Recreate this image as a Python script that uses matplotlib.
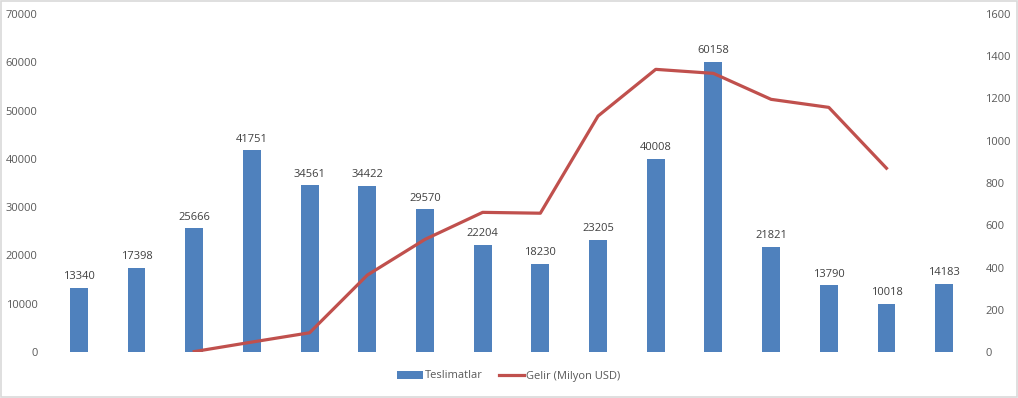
import matplotlib
matplotlib.use("Agg")
import matplotlib.pyplot as plt
from matplotlib.patches import Rectangle

deliveries = [13340, 17398, 25666, 41751, 34561, 34422, 29570, 22204, 18230,
              23205, 40008, 60158, 21821, 13790, 10018, 14183]
revenue_idx = list(range(2, 15))
revenue = [2, 47, 91, 364, 533, 661, 657, 1117, 1338, 1319, 1196, 1158, 870]
bar_label = "Teslimatlar"
line_label = "Gelir (Milyon USD)"

plt.rcParams['font.family'] = ['Open Sans', 'DejaVu Sans']
BAR_C = "#4F81BD"
LINE_C = "#C0504D"
TXT_C = "#595959"

fig = plt.figure(figsize=(10.18, 3.98), dpi=100)
fig.patches.append(Rectangle((0.001, 0.002), 0.998, 0.996, transform=fig.transFigure,
                             fill=False, edgecolor="#D9D9D9", linewidth=1.2))
ax = fig.add_axes([50/1018, 46/398, 923/1018, 338/398])
x = list(range(len(deliveries)))
bars = ax.bar(x, deliveries, width=0.31, color=BAR_C, label=bar_label, zorder=2)
for xi, v in zip(x, deliveries):
    ax.annotate(str(v), (xi, v), xytext=(0, 4), textcoords="offset points",
                ha="center", va="bottom", fontsize=8, color="#404040")
ax.set_xlim(-0.5, len(deliveries) - 0.5)
ax.set_ylim(0, 70000)
ax.set_yticks(range(0, 70001, 10000))
ax.set_xticks([])
for s in ax.spines.values():
    s.set_visible(False)
ax.tick_params(axis="y", length=0, labelsize=8, labelcolor=TXT_C, pad=9)

ax2 = ax.twinx()
line, = ax2.plot(revenue_idx, revenue, color=LINE_C, linewidth=2.3, label=line_label, zorder=3)
ax2.set_ylim(0, 1600)
ax2.set_yticks(range(0, 1601, 200))
for s in ax2.spines.values():
    s.set_visible(False)
ax2.tick_params(axis="y", length=0, labelsize=8, labelcolor=TXT_C, pad=9)

fig.legend([bars, line], [bar_label, line_label], loc="center", bbox_to_anchor=(0.5, 22/398),
           ncol=2, frameon=False, fontsize=8, labelcolor=TXT_C, handlelength=2.3,
           columnspacing=1.4, handletextpad=0.2)

fig.savefig("out.png", dpi=100)
